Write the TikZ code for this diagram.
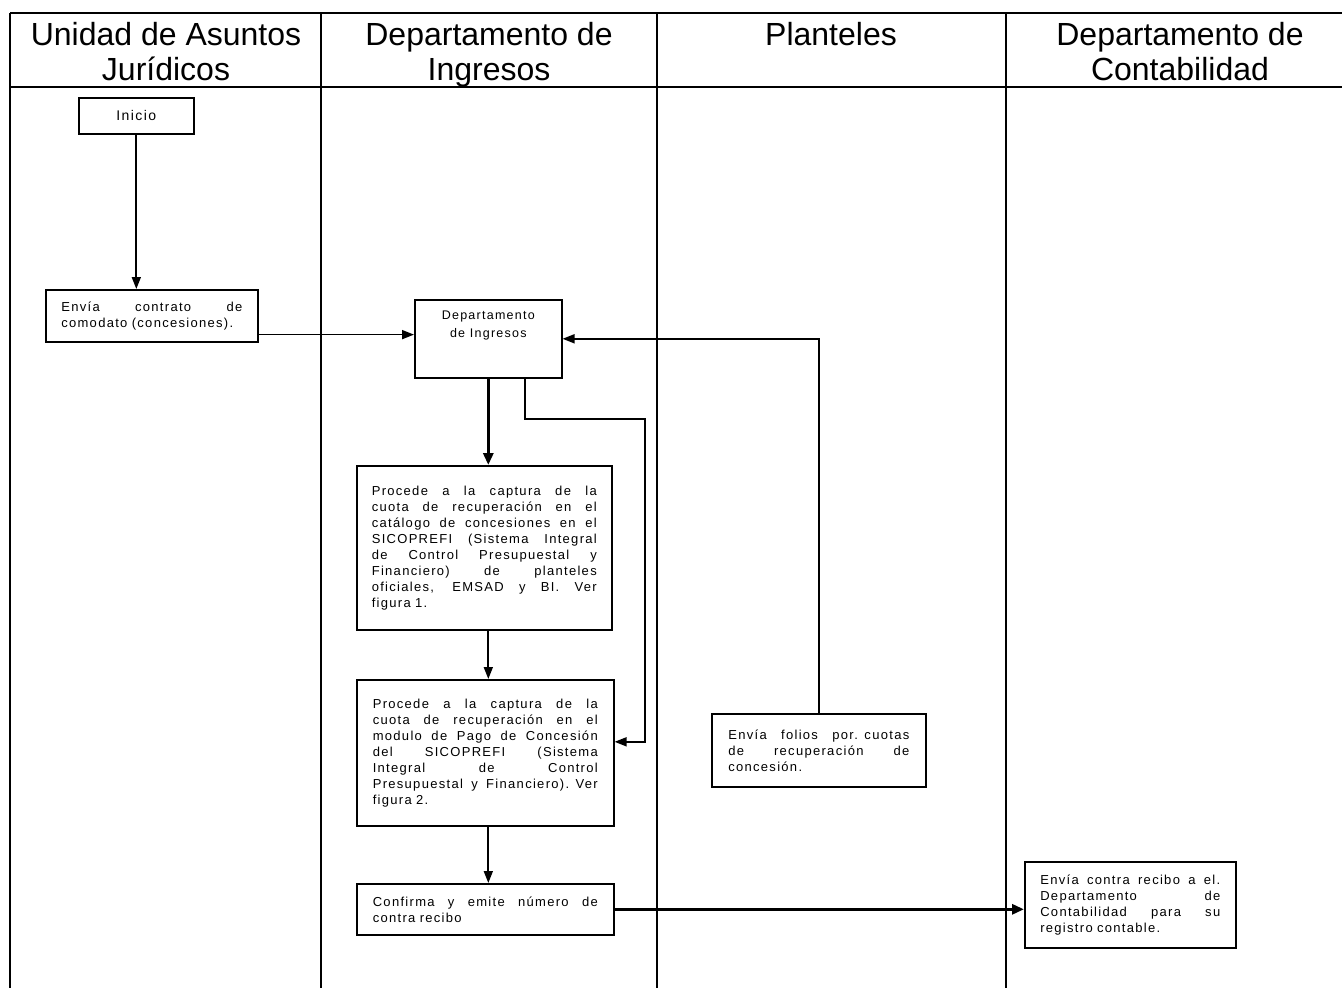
\documentclass[tikz,border=0pt]{standalone}
\usepackage{fontspec}
\setmainfont{Liberation Sans}
\newfontfamily\boxfont[LetterSpace=10]{Liberation Sans}
\usetikzlibrary{arrows.meta}
% one fully justified line of a given width
\newcommand{\jl}[2]{\makebox[#1][s]{\spaceskip=0.28em plus 20em\relax #2}\\}

\begin{document}
\begin{tikzpicture}[x=1pt,y=-1pt,
  frame/.style={line width=1.6pt},
  hdr/.style={anchor=base, inner sep=0pt, font=\fontsize{32}{36}\selectfont},
  box/.style={draw, rectangle, line width=1.6pt, anchor=north west, inner sep=0pt,
    align=left, font=\boxfont\fontsize{13}{16}\selectfont},
  dlbl/.style={anchor=north, yshift=-12pt, inner sep=0pt, align=center,
    font=\boxfont\fontsize{12.5}{18}\selectfont},
  arr/.style={line width=1.7pt, -{Triangle[length=12pt,width=9pt]}},
  thickarr/.style={line width=3pt, -{Triangle[length=12pt,width=10pt]}}
]
\useasboundingbox (0,0) rectangle (1342,988);

% swimlane frame
\draw[frame] (10,13) -- (1342,13);
\draw[frame] (10,87) -- (1342,87);
\foreach \lx in {10,321,657,1006} \draw[frame] (\lx,13) -- (\lx,988);

% lane titles
\node[hdr] (h1a) at (166,45) {Unidad de Asuntos};
\node[hdr] (h1b) at (166,80) {Jurídicos};
\node[hdr] (h2a) at (489,45) {Departamento de};
\node[hdr] (h2b) at (489,80) {Ingresos};
\node[hdr] (h3a) at (831,45) {Planteles};
\node[hdr] (h4a) at (1180,45) {Departamento de};
\node[hdr] (h4b) at (1180,80) {Contabilidad};

% steps
\node[box, align=center, minimum width=115pt, minimum height=36pt,
  font=\boxfont\fontsize{14}{16}\selectfont] (inicio) at (78,97) {Inicio};

\node[box, minimum width=212pt, minimum height=52pt, text width=181pt] (envia) at (45,289)
  {\jl{181pt}{Envía contrato de}comodato (concesiones).};

\node[box, minimum width=147pt, minimum height=78pt,
  label={[dlbl]north:{Departamento\\de Ingresos}}] (dept) at (414,299) {};

\node[box, minimum width=255pt, minimum height=164pt, text width=225pt] (cat) at (356,465)
  {\jl{225pt}{Procede a la captura de la}%
   \jl{225pt}{cuota de recuperación en el}%
   \jl{225pt}{catálogo de concesiones en el}%
   \jl{225pt}{SICOPREFI (Sistema Integral}%
   \jl{225pt}{de Control Presupuestal y}%
   \jl{225pt}{Financiero) de planteles}%
   \jl{225pt}{oficiales, EMSAD y BI. Ver}%
   figura 1.};

\node[box, minimum width=257pt, minimum height=146pt, text width=225pt] (mod) at (356,679)
  {\jl{225pt}{Procede a la captura de la}%
   \jl{225pt}{cuota de recuperación en el}%
   \jl{225pt}{modulo de Pago de Concesión}%
   \jl{225pt}{del SICOPREFI (Sistema}%
   \jl{225pt}{Integral de Control}%
   \jl{225pt}{Presupuestal y Financiero). Ver}%
   figura 2.};

\node[box, minimum width=257pt, minimum height=51pt, text width=225pt] (conf) at (356,883)
  {\jl{225pt}{Confirma y emite número de}contra recibo};

\node[box, minimum width=214pt, minimum height=73pt, text width=181pt] (folios) at (711,713)
  {\jl{181pt}{Envía folios por. cuotas}%
   \jl{181pt}{de recuperación de}%
   concesión.};

\node[box, minimum width=211pt, minimum height=86pt, text width=180pt] (contra) at (1024,861)
  {\jl{180pt}{Envía contra recibo a el.}%
   \jl{180pt}{Departamento de}%
   \jl{180pt}{Contabilidad para su}%
   registro contable.};

% connectors
\coordinate (loop) at (645,419);
\draw[arr] (inicio) -- (inicio |- envia.north);
\draw[arr] ([yshift=8pt]envia.south east) -- ([yshift=8pt]envia.south east -| dept.west);
\draw[arr] (folios.north) |- (dept.east);
\draw[thickarr] (dept.south) -- (dept.south |- cat.north);
\draw[arr] ([xshift=37pt]dept.south) |- (loop) |- ([yshift=11pt]mod.east);
\draw[arr] (cat.south -| dept.south) -- (mod.north -| dept.south);
\draw[arr] (mod.south -| dept.south) -- (conf.north -| dept.south);
\draw[thickarr] (conf.east) -- (conf.east -| contra.west);
\end{tikzpicture}
\end{document}
